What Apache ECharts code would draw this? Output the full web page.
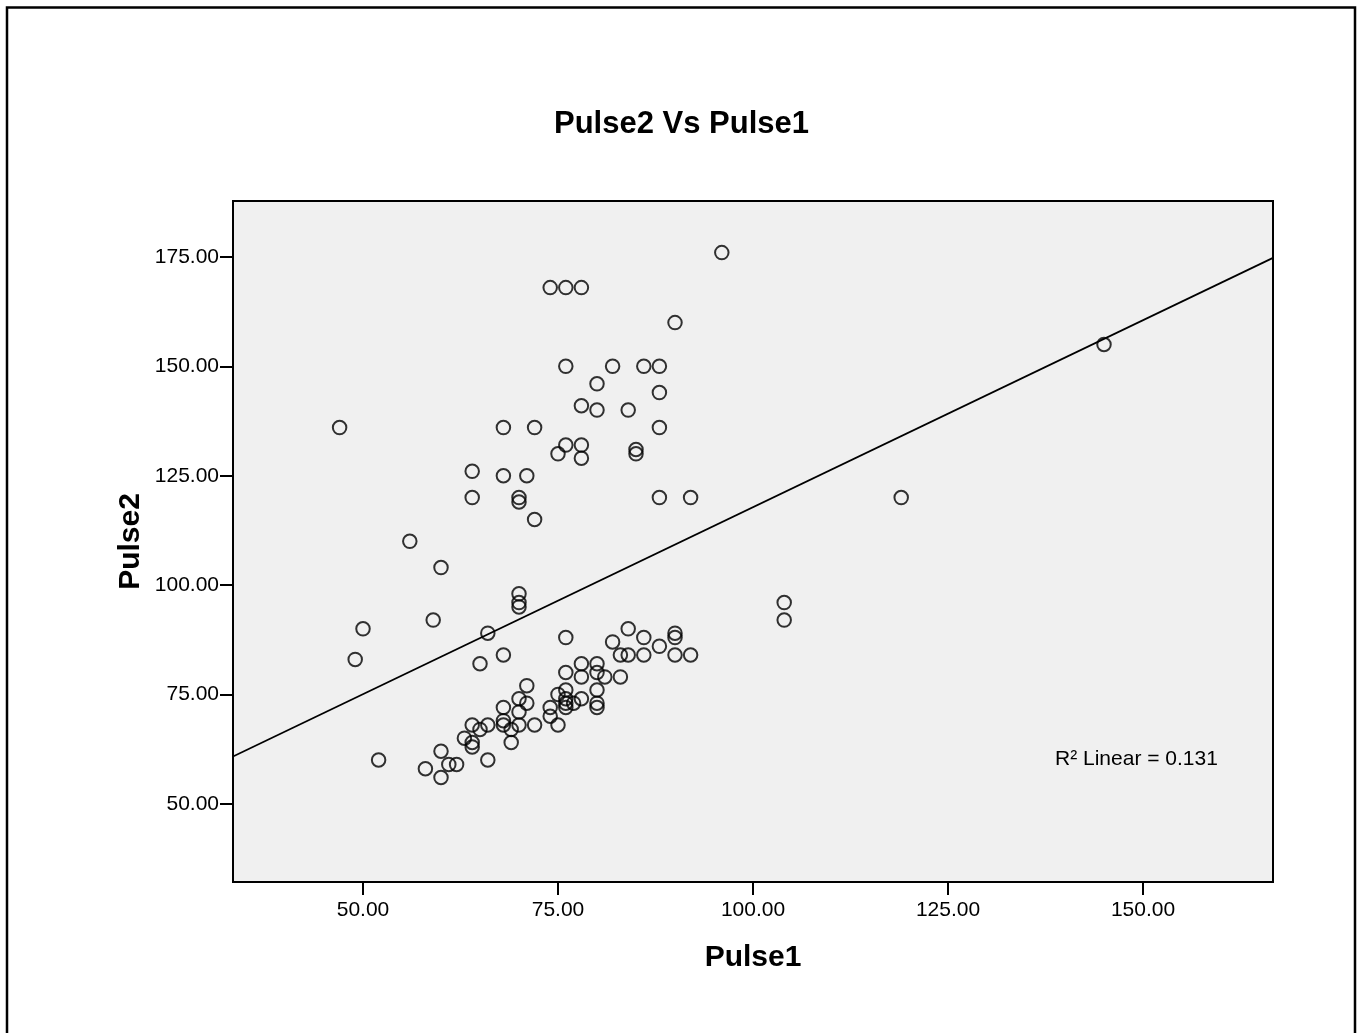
<!DOCTYPE html>
<html lang="en">
<head>
    <meta charset="UTF-8">
    <title>Pulse2 Vs Pulse1</title>
    <script src="https://cdn.jsdelivr.net/npm/echarts@6/dist/echarts.min.js"></script>
    <style>
        html, body { margin: 0; padding: 0; background: #fff; }
    </style>
</head>
<body>
<div id="main" style="width: 1363px;height:1033px;"></div>
<script>
    // scatter values
    var pulse1 = [96, 74, 76, 78, 90, 76, 82, 86, 88, 80, 88, 78, 80, 84, 47, 68, 72, 88, 76, 78,
        75, 78, 85, 85, 64, 68, 71, 64, 70, 70, 88, 92, 72, 56, 60, 70, 70, 70, 59, 50,
        66, 84, 90, 90, 49, 76, 86, 82, 88, 83, 84, 86, 90, 92, 68, 65, 78, 80, 76, 80,
        81, 78, 83, 71, 76, 80, 75, 70, 71, 76, 76, 76, 77, 78, 80, 80, 68, 74, 70, 68,
        68, 74, 64, 66, 65, 69, 70, 72, 75, 63, 64, 64, 69, 60, 52, 66, 61, 62, 58, 60,
        104, 104, 119, 145];
    var pulse2 = [176, 168, 168, 168, 160, 150, 150, 150, 150, 146, 144, 141, 140, 140, 136, 136, 136, 136, 132, 132,
        130, 129, 131, 130, 126, 125, 125, 120, 120, 119, 120, 120, 115, 110, 104, 98, 96, 95, 92, 90,
        89, 90, 89, 88, 83, 88, 88, 87, 86, 84, 84, 84, 84, 84, 84, 82, 82, 82, 80, 80,
        79, 79, 79, 77, 76, 76, 75, 74, 73, 74, 73, 72, 73, 74, 73, 72, 72, 72, 71, 69,
        68, 70, 68, 68, 67, 67, 68, 68, 68, 65, 64, 63, 64, 62, 60, 60, 59, 59, 58, 56,
        96, 92, 120, 155];

    // fit line, ends at the axis limits
    var fitX = [33.333, 166.667];
    var fitY = [60.8, 174.8];

    var xTicks = [50, 75, 100, 125, 150];
    var yTicks = [50, 75, 100, 125, 150, 175];

    var points = [];
    for (var i = 0; i < pulse1.length; i++) {
        points.push([pulse1[i], pulse2[i]]);
    }
    var fitLine = [[fitX[0], fitY[0]], [fitX[1], fitY[1]]];

    var font = "'Liberation Sans', Arial, sans-serif";
    var myChart = echarts.init(document.getElementById('main'));
    var option = {
        backgroundColor: '#fff',
        animation: false,
        title: [{
            text: 'Pulse2 Vs Pulse1',
            left: 'center',
            top: 109,
            padding: 0,
            textStyle: { fontFamily: font, fontSize: 31, fontWeight: 'bold', color: '#000' }
        }, {
            text: 'R² Linear = 0.131',
            left: 1055,
            top: 749,
            padding: 0,
            textStyle: { fontFamily: font, fontSize: 21, fontWeight: 'normal', color: '#000' }
        }],
        graphic: [{
            type: 'rect',
            shape: { x: 7, y: 7.5, width: 1348, height: 1040 },
            style: { fill: 'none', stroke: '#000', lineWidth: 2.5 },
            silent: true
        }],
        grid: {
            left: 233, top: 201, right: 90, bottom: 151,
            show: true,
            backgroundColor: '#f0f0f0',
            borderColor: '#000',
            borderWidth: 2
        },
        xAxis: {
            type: 'value',
            min: 33.333,
            max: 166.667,
            name: 'Pulse1',
            nameLocation: 'middle',
            nameGap: 61,
            nameMoveOverlap: false,
            nameTextStyle: { fontFamily: font, fontSize: 30, fontWeight: 'bold', color: '#000' },
            splitLine: { show: false },
            axisLine: { show: true, lineStyle: { color: '#000', width: 2 } },
            axisTick: { show: true, customValues: xTicks, length: 13, lineStyle: { color: '#000', width: 2 } },
            axisLabel: {
                customValues: xTicks, margin: 18,
                fontFamily: font, fontSize: 21, color: '#000',
                formatter: function (v) { return v.toFixed(2); }
            }
        },
        yAxis: {
            type: 'value',
            min: 32.12,
            max: 187.8,
            name: 'Pulse2',
            nameLocation: 'middle',
            nameGap: 87,
            nameMoveOverlap: false,
            nameTextStyle: { fontFamily: font, fontSize: 30, fontWeight: 'bold', color: '#000' },
            splitLine: { show: false },
            axisLine: { show: true, lineStyle: { color: '#000', width: 2 } },
            axisTick: { show: true, customValues: yTicks, length: 13, lineStyle: { color: '#000', width: 2 } },
            axisLabel: {
                customValues: yTicks, margin: 14,
                fontFamily: font, fontSize: 21, color: '#000',
                formatter: function (v) { return v.toFixed(2); }
            }
        },
        series: [{
            name: 'Pulse2',
            type: 'scatter',
            data: points,
            symbol: 'circle',
            symbolSize: 13.5,
            itemStyle: { color: 'rgba(0,0,0,0)', borderColor: '#000', borderWidth: 2 }
        }, {
            name: 'fit',
            type: 'line',
            data: fitLine,
            showSymbol: false,
            symbol: 'none',
            lineStyle: { color: '#000', width: 1.7 }
        }]
    };
    myChart.setOption(option);
</script>
</body>
</html>
